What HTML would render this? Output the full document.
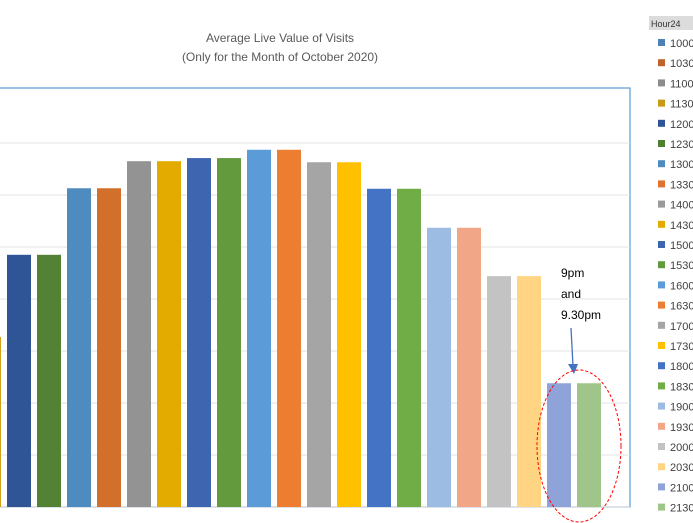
<!DOCTYPE html>
<html><head><meta charset="utf-8"><style>
body{margin:0;background:#fff;}
svg{display:block;font-family:"Liberation Sans",sans-serif;}
</style></head><body>
<svg id="chart" width="693" height="523" viewBox="0 0 693 523">
<text x="280" y="42" text-anchor="middle" font-size="12" fill="#595959">Average Live Value of Visits</text>
<text x="280" y="61" text-anchor="middle" font-size="12" fill="#595959">(Only for the Month of October 2020)</text>
<rect x="-2" y="88" width="632" height="419" fill="none" stroke="#5b9bd5" stroke-width="1.2"/>
<g id="grid"></g>
<g id="bars"></g>
<g id="legend"></g>
<g>
<text x="561" y="277" font-size="12" fill="#000">9pm</text>
<text x="561" y="298" font-size="12" fill="#000">and</text>
<text x="561" y="319" font-size="12" fill="#000">9.30pm</text>
<line x1="571" y1="328" x2="573" y2="366" stroke="#4472c4" stroke-width="1.3"/>
<polygon points="568,364 578,364 574,374" fill="#4472c4"/>
<ellipse cx="579" cy="446" rx="42" ry="76" fill="none" stroke="#ff0000" stroke-width="1" stroke-dasharray="3,2"/>
</g>
</svg>
<script>
const categories=["1130","1200","1230","1300","1330","1400","1430","1500","1530","1600","1630","1700","1730","1800","1830","1900","1930","2000","2030","2100","2130"];
const values=[327,485,485,613,613,665,665,671,671,687,687,663,663,612,612,537,537,444,444,238,238];
const colors=["#d4a017","#2f5597","#548235","#4e8cc0","#d26f2a","#939393","#e3ab00","#3d65b0","#639a3d","#5a9bd8","#ed7d31","#a5a5a5","#ffc000","#4472c4","#70ad47","#9dbce4","#f1a687","#c3c3c3","#ffd584","#8fa3d8","#9fc58a"];
const legendLabels=["1000","1030","1100","1130","1200","1230","1300","1330","1400","1430","1500","1530","1600","1630","1700","1730","1800","1830","1900","1930","2000","2030","2100","2130"];
const legendColors=["#4e7fb5","#c0622b","#8c8c8c","#c99a1a","#2f5597","#4f7f31","#4e8cc0","#e07330","#9a9a9a","#e3ab00","#3d65b0","#639a3d","#5a9bd8","#ed7d31","#a5a5a5","#ffc000","#4472c4","#70ad47","#9dbce4","#f1a687","#c3c3c3","#ffd584","#8fa3d8","#9fc58a"];
const yTicks=[100,200,300,400,500,600,700];
const NS="http://www.w3.org/2000/svg";
const base=507, pxPer=0.52;
const y=v=>base-v*pxPer;
const x=i=>-23+i*30;
const grid=document.getElementById('grid');
yTicks.forEach(t=>{const l=document.createElementNS(NS,'line');


l.setAttribute('x1',0);l.setAttribute('x2',630);l.setAttribute('y1',y(t));l.setAttribute('y2',y(t));
l.setAttribute('stroke','#e3e3e3');l.setAttribute('stroke-width','1');grid.appendChild(l);});
const bl=document.createElementNS(NS,'line');


bl.setAttribute('x1',0);bl.setAttribute('x2',630);bl.setAttribute('y1',base);bl.setAttribute('y2',base);bl.setAttribute('stroke','#d9d9d9');grid.appendChild(bl);
const bars=document.getElementById('bars');
values.forEach((v,i)=>{const r=document.createElementNS(NS,'rect');


r.setAttribute('x',x(i));r.setAttribute('width',24);r.setAttribute('y',y(v));r.setAttribute('height',base-y(v));
r.setAttribute('fill',colors[i]);bars.appendChild(r);});
const lg=document.getElementById('legend');
const hb=document.createElementNS(NS,'rect');


hb.setAttribute('x',649);hb.setAttribute('y',16);hb.setAttribute('width',46);hb.setAttribute('height',14);hb.setAttribute('fill','#dcdcdc');lg.appendChild(hb);
const ht=document.createElementNS(NS,'text');


ht.setAttribute('x',651);ht.setAttribute('y',27);ht.setAttribute('font-size','9');ht.setAttribute('fill','#333');ht.textContent='Hour24';lg.appendChild(ht);
legendLabels.forEach((lab,i)=>{const cy=43+i*20.2;
const s=document.createElementNS(NS,'rect');


s.setAttribute('x',658);s.setAttribute('y',cy-4);s.setAttribute('width',7);s.setAttribute('height',7);s.setAttribute('fill',legendColors[i]);lg.appendChild(s);
const t=document.createElementNS(NS,'text');


t.setAttribute('x',670);t.setAttribute('y',cy+4);t.setAttribute('font-size','11');t.setAttribute('fill','#404040');t.textContent=lab;lg.appendChild(t);});
</script>
</body></html>
